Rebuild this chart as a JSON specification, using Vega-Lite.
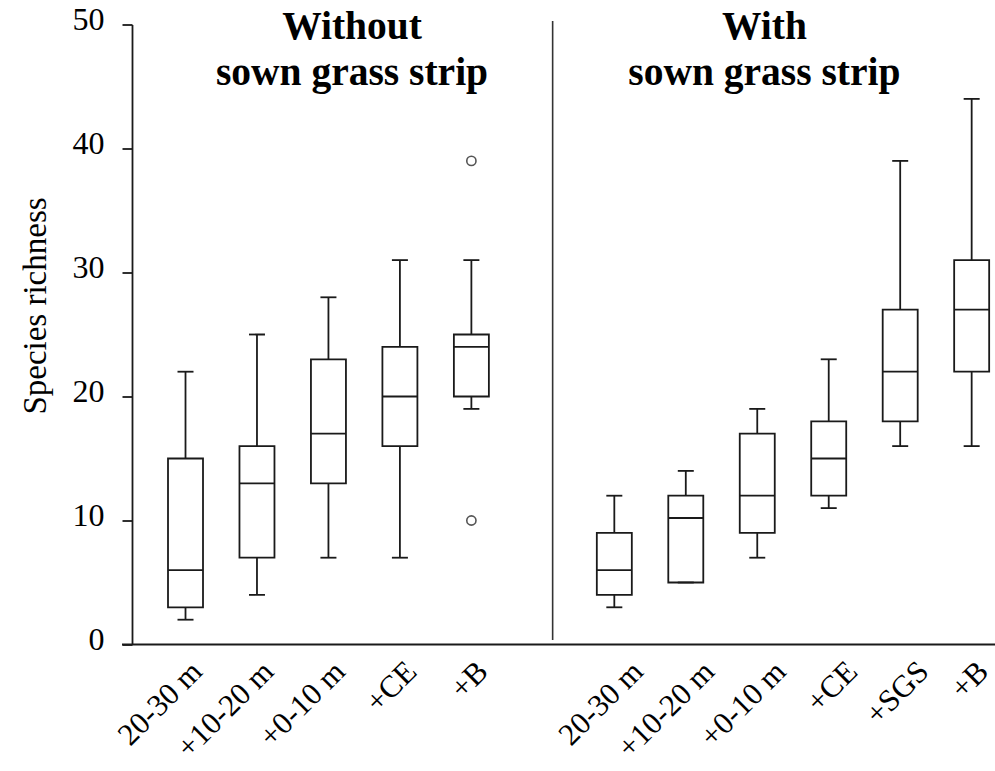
{
  "$schema": "https://vega.github.io/schema/vega-lite/v6.json",
  "width": 873,
  "height": 620,
  "autosize": "none",
  "padding": {"left": 122, "top": 24.5, "right": 0, "bottom": 126.5},
  "background": "white",
  "config": {"view": {"stroke": null}, "font": "Liberation Serif"},
  "datasets": {
    "boxes": [
      {"key": "Without|20-30 m", "lo": 2, "q1": 3, "med": 6, "q3": 15, "hi": 22},
      {"key": "Without|+10-20 m", "lo": 4, "q1": 7, "med": 13, "q3": 16, "hi": 25},
      {"key": "Without|+0-10 m", "lo": 7, "q1": 13, "med": 17, "q3": 23, "hi": 28},
      {"key": "Without|+CE", "lo": 7, "q1": 16, "med": 20, "q3": 24, "hi": 31},
      {"key": "Without|+B", "lo": 19, "q1": 20, "med": 24, "q3": 25, "hi": 31},
      {"key": "With|20-30 m", "lo": 3, "q1": 4, "med": 6, "q3": 9, "hi": 12},
      {"key": "With|+10-20 m", "lo": 5, "q1": 5, "med": 10.2, "q3": 12, "hi": 14},
      {"key": "With|+0-10 m", "lo": 7, "q1": 9, "med": 12, "q3": 17, "hi": 19},
      {"key": "With|+CE", "lo": 11, "q1": 12, "med": 15, "q3": 18, "hi": 23},
      {"key": "With|+SGS", "lo": 16, "q1": 18, "med": 22, "q3": 27, "hi": 39},
      {"key": "With|+B", "lo": 16, "q1": 22, "med": 27, "q3": 31, "hi": 44}
    ],
    "outliers": [
      {"key": "Without|+B", "value": 39},
      {"key": "Without|+B", "value": 10}
    ]
  },
  "layer": [
    {
      "data": {"name": "boxes"},
      "mark": {"type": "rule", "color": "#1a1a1a", "strokeWidth": 1.8},
      "encoding": {
        "x": {
          "field": "key",
          "type": "nominal",
          "scale": {
            "domain": ["Without|20-30 m", "Without|+10-20 m", "Without|+0-10 m", "Without|+CE", "Without|+B", "gap|", "With|20-30 m", "With|+10-20 m", "With|+0-10 m", "With|+CE", "With|+SGS", "With|+B"],
            "range": [27.77, 885.4],
            "paddingInner": 0,
            "paddingOuter": 0
          },
          "axis": {
            "title": null,
            "domain": false,
            "ticks": false,
            "tickSize": 0,
            "labelAngle": -45,
            "labelAlign": "right",
            "labelBaseline": "middle",
            "labelFont": "Liberation Serif",
            "labelFontSize": 31,
            "labelColor": "black",
            "labelPadding": 22,
            "labelOverlap": false,
            "labelLimit": 300,
            "labelOffset": {"condition": {"test": "slice(datum.value, 0, 5) == 'With|' && datum.value != 'With|+B'", "value": 24}, "value": 12},
            "labelExpr": "replace(datum.value, /^.*[|]/, '')"
          }
        },
        "y": {
          "field": "lo",
          "type": "quantitative",
          "scale": {"domain": [0, 50], "nice": false, "zero": false},
          "axis": {
            "values": [0, 10, 20, 30, 40, 50],
            "grid": false,
            "offset": -10,
            "tickSize": 10,
            "tickWidth": 1.8,
            "tickColor": "#1a1a1a",
            "domainColor": "#1a1a1a",
            "domainWidth": 1.8,
            "labelFont": "Liberation Serif",
            "labelFontSize": 32,
            "labelColor": "black",
            "labelPadding": 18,
            "labelOffset": -5,
            "title": "Species richness",
            "titleFont": "Liberation Serif",
            "titleFontSize": 33,
            "titleFontWeight": "normal",
            "titleColor": "black",
            "titleAngle": -90,
            "titleAlign": "center",
            "titleBaseline": "middle",
            "titleX": -97,
            "titleY": 281
          }
        },
        "y2": {"field": "hi"}
      }
    },
    {
      "data": {"name": "boxes"},
      "mark": {"type": "bar", "fill": "white", "stroke": "#1a1a1a", "strokeWidth": 1.8, "size": 35},
      "encoding": {
        "x": {"field": "key", "type": "nominal"},
        "y": {"field": "q1", "type": "quantitative"},
        "y2": {"field": "q3"}
      }
    },
    {
      "data": {"name": "boxes"},
      "mark": {"type": "tick", "color": "#1a1a1a", "opacity": 1, "size": 35, "thickness": 1.8},
      "encoding": {
        "x": {"field": "key", "type": "nominal"},
        "y": {"field": "med", "type": "quantitative"}
      }
    },
    {
      "data": {"name": "boxes"},
      "mark": {"type": "tick", "color": "#1a1a1a", "opacity": 1, "size": 16, "thickness": 1.8},
      "encoding": {
        "x": {"field": "key", "type": "nominal"},
        "y": {"field": "hi", "type": "quantitative"}
      }
    },
    {
      "data": {"name": "boxes"},
      "mark": {"type": "tick", "color": "#1a1a1a", "opacity": 1, "size": 16, "thickness": 1.8},
      "encoding": {
        "x": {"field": "key", "type": "nominal"},
        "y": {"field": "lo", "type": "quantitative"}
      }
    },
    {
      "data": {"name": "outliers"},
      "mark": {"type": "point", "shape": "circle", "size": 85, "filled": false, "stroke": "#555", "strokeWidth": 1.6, "opacity": 1},
      "encoding": {
        "x": {"field": "key", "type": "nominal"},
        "y": {"field": "value", "type": "quantitative"}
      }
    },
    {
      "data": {"values": [{}]},
      "mark": {"type": "rule", "color": "#333", "strokeWidth": 1.6},
      "encoding": {
        "x": {"datum": "gap|", "bandPosition": 0.637},
        "y": {"datum": 0.36},
        "y2": {"datum": 50.28}
      }
    },
    {
      "data": {"values": [{}]},
      "mark": {"type": "rule", "color": "#1a1a1a", "strokeWidth": 2.2},
      "encoding": {
        "y": {"datum": 0}
      }
    },
    {
      "data": {"values": [{}]},
      "mark": {"type": "text", "text": ["Without", "sown grass strip"], "lineHeight": 45.7, "baseline": "alphabetic", "align": "center", "font": "Liberation Serif", "fontSize": 39.5, "fontWeight": "bold", "color": "black"},
      "encoding": {
        "x": {"datum": "Without|+0-10 m", "bandPosition": 0.83},
        "y": {"datum": 48.8}
      }
    },
    {
      "data": {"values": [{}]},
      "mark": {"type": "text", "text": ["With", "sown grass strip"], "lineHeight": 45.7, "baseline": "alphabetic", "align": "center", "font": "Liberation Serif", "fontSize": 39.5, "fontWeight": "bold", "color": "black"},
      "encoding": {
        "x": {"datum": "With|+0-10 m", "bandPosition": 0.6},
        "y": {"datum": 48.8}
      }
    }
  ]
}
